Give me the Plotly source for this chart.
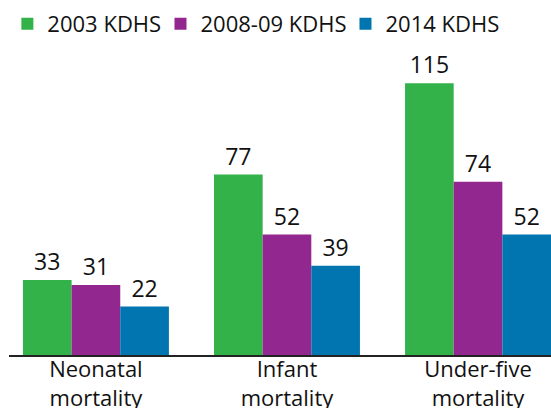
import plotly.graph_objects as go

categories = ["Neonatal<br>mortality", "Infant<br>mortality", "Under-five<br>mortality"]
series_names = ["2003 KDHS", "2008-09 KDHS", "2014 KDHS"]
values_2003 = [33, 77, 115]
values_2008 = [31, 52, 74]
values_2014 = [22, 39, 52]
colors = ["#33b24a", "#92278f", "#0075b0"]
legend_ids = ["legend", "legend2", "legend3"]
legend_x = [-0.003, 0.2795, 0.6208]

FONT = "Open Sans"
fig = go.Figure()
for name, vals, col, lid in zip(series_names, [values_2003, values_2008, values_2014], colors, legend_ids):
    fig.add_trace(go.Bar(
        name=name, x=categories, y=vals, marker=dict(color=col, line=dict(width=0)),
        text=[str(v) for v in vals], textposition="outside", cliponaxis=False,
        textfont=dict(family=FONT, size=23, color="#111"), legend=lid,
    ))

leg_common = dict(orientation="h", xanchor="left", y=1.122, yanchor="middle",
                  font=dict(family=FONT, size=22, color="#111"), itemwidth=30,
                  bgcolor="rgba(0,0,0,0)")
fig.update_layout(
    width=551, height=408,
    margin=dict(l=9, r=0, t=60, b=53, autoexpand=False),
    paper_bgcolor="white", plot_bgcolor="white",
    barmode="group", bargap=0.236, bargroupgap=0,
    showlegend=True,
    legend=dict(x=legend_x[0], **leg_common),
    legend2=dict(x=legend_x[1], **leg_common),
    legend3=dict(x=legend_x[2], **leg_common),
    font=dict(family=FONT, color="#111"),
)
fig.update_xaxes(range=[-0.455, 2.382], showline=True, linecolor="#222", linewidth=2,
                 ticks="", tickfont=dict(family=FONT, size=22, color="#111"),
                 ticklabelstandoff=-6, automargin=False,
                 showgrid=False, fixedrange=True)
fig.update_yaxes(range=[1.8, 124.7], visible=False, showgrid=False, zeroline=False,
                 automargin=False)

fig.write_html(
    "out.html",
    config={"displayModeBar": False},
    post_script="document.body.style.margin='0';document.body.style.overflow='hidden';"
                "document.documentElement.style.overflow='hidden';",
)
